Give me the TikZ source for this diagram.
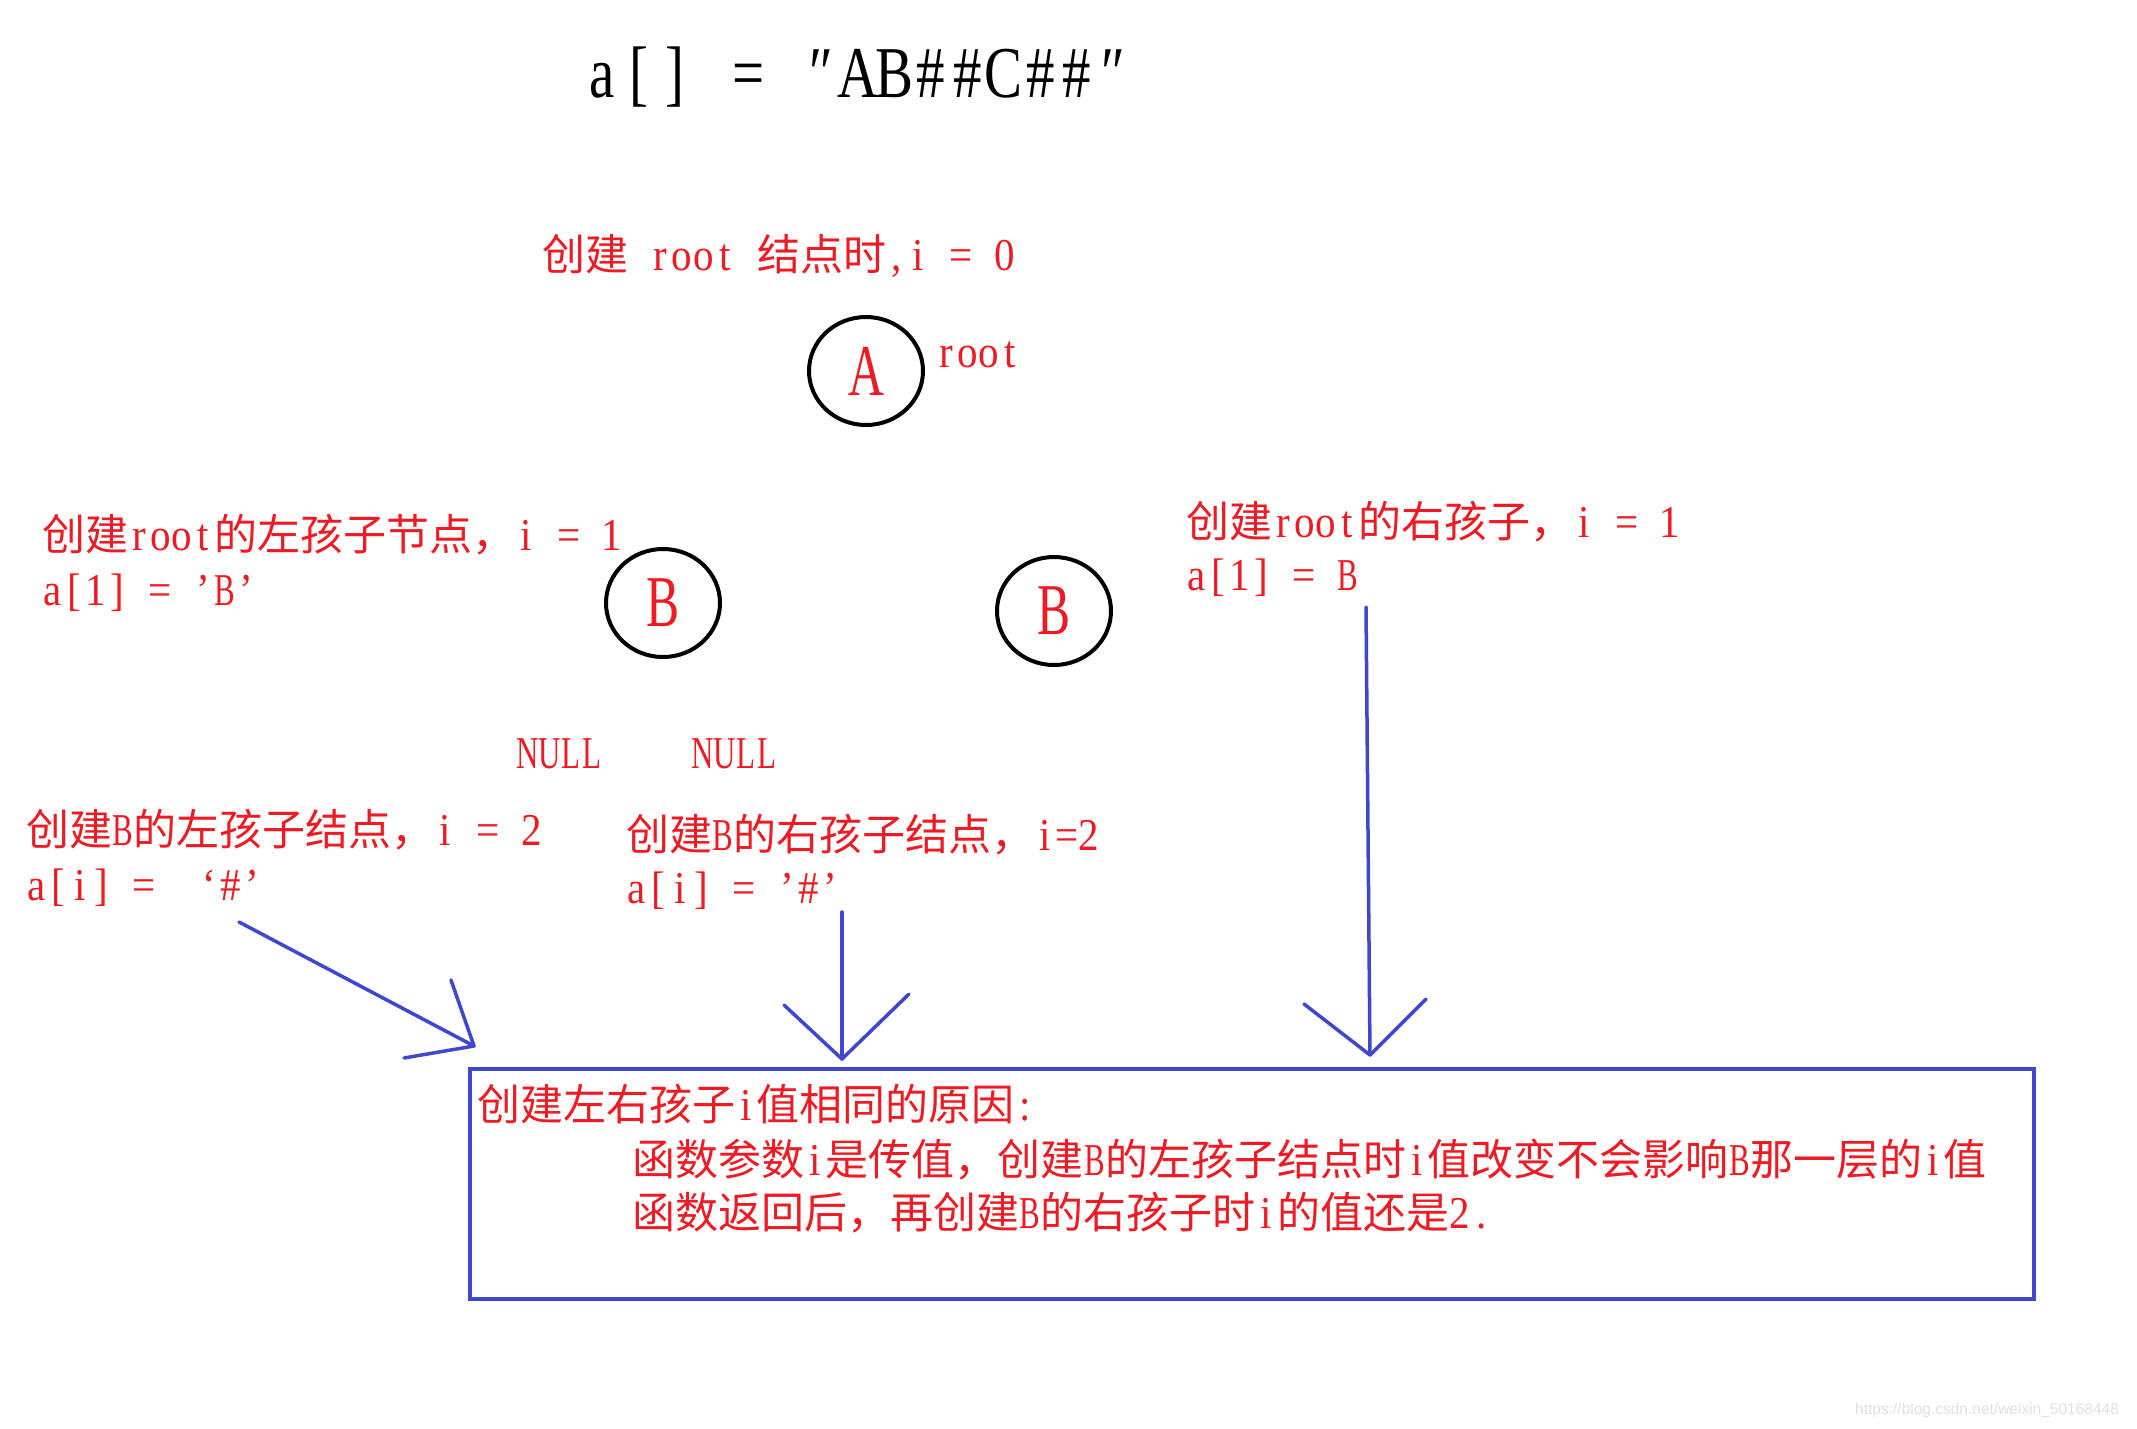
\documentclass[tikz,border=0pt]{standalone}
\usepackage{fontspec}
\setmainfont{Liberation Serif}
\newfontfamily\cjk{Noto Sans CJK SC}
\newfontfamily\latn[Scale=1.06,FakeStretch=0.9]{Liberation Serif}
\newfontfamily\latncap[Scale=1.06,FakeStretch=0.68]{Liberation Serif}
\newfontfamily\titlelatn[FakeStretch=0.78]{Liberation Serif}
\newfontfamily\letterfont[FakeStretch=0.68]{Liberation Serif}
\newfontfamily\wmfont{Liberation Sans}
\usetikzlibrary{shapes.geometric}
\definecolor{red0}{RGB}{237,28,36}
\definecolor{blue0}{RGB}{63,72,204}
\newlength\monow
\setlength\monow{21.5pt}
\def\monoloop#1{\ifx#1\relax\else\makebox[\monow][c]{#1}\expandafter\monoloop\fi}
\newcommand\mono[1]{{\latn\setlength\monow{21.5pt}\monoloop#1\relax}}
\newcommand\cmono[1]{{\latncap\setlength\monow{21.5pt}\monoloop#1\relax}}
\newcommand\monot[1]{{\titlelatn\setlength\monow{36.5pt}\monoloop#1\relax}}
\newcommand\zh[1]{{\cjk #1}}
\tikzset{
  lbl/.style={text=red0, anchor=base west, inner sep=0pt, font=\fontsize{43}{50}\selectfont},
  treenode/.style={ellipse, draw=black, line width=4pt, minimum width=114pt, minimum height=108pt,
    inner sep=0pt, text=red0, font=\letterfont\fontsize{73}{80}\selectfont},
  arrowline/.style={draw=blue0, line width=3.5pt, line cap=round, line join=round},
}
\begin{document}
\begin{tikzpicture}[x=1pt,y=-1pt]
\useasboundingbox (0,0) rectangle (2137,1429);
\fill[white] (0,0) rectangle (2137,1429);

% title
\node[anchor=base west, inner sep=0pt, font=\fontsize{73}{80}\selectfont] (title) at (584,98)
  {\monot{a[]~=~″AB\#\#C\#\#″}};

% tree nodes
\node[treenode] (A) at (866,371) {A};
\node[treenode] (B1) at (663,603) {B};
\node[treenode] (B2) at (1054,611) {B};

% labels
\node[lbl] (rootlbl) at (542,270) {\zh{创建}\mono{~root~}\zh{结点时}\mono{,i~=~0}};
\node[lbl] (rootname) at (935,367) {\mono{root}};

\node[lbl] (l1) at (42,550) {\zh{创建}\mono{root}\zh{的左孩子节点，}\mono{i~=~1}};
\node[lbl] (l2) at (42,605) {\mono{a[1]~=~’}\cmono{B}\mono{’}};

\node[lbl] (r1) at (1186,537) {\zh{创建}\mono{root}\zh{的右孩子，}\mono{i~=~1}};
\node[lbl] (r2) at (1186,590) {\mono{a[1]~=~}\cmono{B}};

\node[lbl] (null1) at (517,768) {\cmono{NULL}};
\node[lbl] (null2) at (692,768) {\cmono{NULL}};

\node[lbl] (bl1) at (26,845) {\zh{创建}\cmono{B}\zh{的左孩子结点，}\mono{i~=~2}};
\node[lbl] (bl2) at (26,900) {\mono{a[i]~=~~‘\#’}};

\node[lbl] (bm1) at (626,850) {\zh{创建}\cmono{B}\zh{的右孩子结点，}\mono{i=2}};
\node[lbl] (bm2) at (626,903) {\mono{a[i]~=~’\#’}};

% box
\node[draw=blue0, line width=4pt, minimum width=1564pt, minimum height=230pt, inner sep=0pt,
  anchor=north west] (box) at (468,1067) {};
\node[lbl] (t1) at (477,1120) {\zh{创建左右孩子}\mono{i}\zh{值相同的原因}\mono{:}};
\node[lbl] (t2) at (632,1175) {\zh{函数参数}\mono{i}\zh{是传值，创建}\cmono{B}\zh{的左孩子结点时}\mono{i}\zh{值改变不会影响}\cmono{B}\zh{那一层的}\mono{i}\zh{值}};
\node[lbl] (t3) at (632,1228) {\zh{函数返回后，再创建}\cmono{B}\zh{的右孩子时}\mono{i}\zh{的值还是}\mono{2.}};

% arrows
\coordinate (a1s) at (239,922);
\coordinate (a1t) at (474,1046);
\coordinate (a1h1) at (451,980);
\coordinate (a1h2) at (404,1058);
\draw[arrowline] (a1s) -- (a1t);
\draw[arrowline] (a1h1) -- (a1t) -- (a1h2);

\coordinate (a2s) at (842,912);
\coordinate (a2t) at (842,1059);
\coordinate (a2h1) at (784,1005);
\coordinate (a2h2) at (909,994);
\draw[arrowline] (a2s) -- (a2t);
\draw[arrowline] (a2h1) -- (a2t) -- (a2h2);

\coordinate (a3s) at (1366,607);
\coordinate (a3t) at (1370,1055);
\coordinate (a3h1) at (1304,1004);
\coordinate (a3h2) at (1426,999);
\draw[arrowline] (a3s) -- (a3t);
\draw[arrowline] (a3h1) -- (a3t) -- (a3h2);

% watermark
\node[anchor=west, inner sep=0pt, text=black!12, font=\wmfont\fontsize{15.5}{18}\selectfont] (wm) at (1855,1410)
  {https://blog.csdn.net/weixin\_50168448};
\end{tikzpicture}
\end{document}
